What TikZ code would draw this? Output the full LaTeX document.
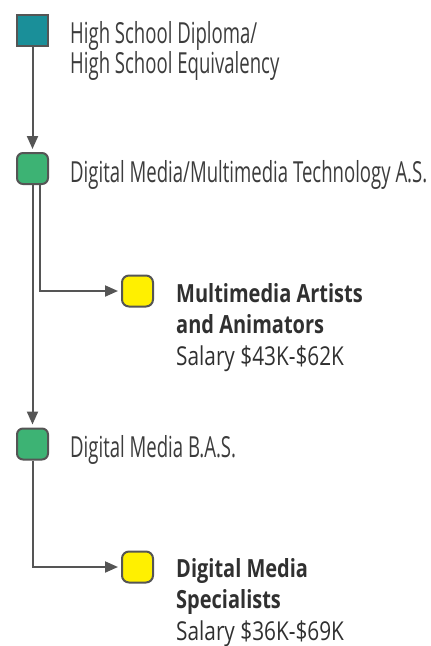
\documentclass[tikz,border=0pt]{standalone}
\usepackage{fontspec}
\setmainfont{Open Sans}
\newfontfamily\condfont[FakeStretch=0.64]{Open Sans}
\newfontfamily\salfont[FakeStretch=0.8]{Open Sans}
\usetikzlibrary{arrows.meta}
\usetikzlibrary{positioning}
\definecolor{mteal}{RGB}{26,143,153}
\definecolor{mgreen}{RGB}{61,179,116}
\definecolor{myellow}{RGB}{255,240,0}
\definecolor{mgray}{RGB}{85,85,85}
\definecolor{mtext}{RGB}{60,60,60}

\begin{document}
\begin{tikzpicture}[x=1pt, y=-1pt,
    box/.style={draw=mgray, line width=2pt, minimum size=31pt, inner sep=0pt},
    link/.style={mgray, line width=2pt, -{Triangle[length=13pt, width=11pt]}, shorten >=3pt},
    txt/.style={anchor=base west, inner sep=0pt, align=left, text=mtext,
      font=\condfont\fontsize{29}{28}\selectfont},
    title/.style={anchor=base west, inner sep=0pt, align=left, text=mtext!80!black,
      font=\salfont\bfseries\fontsize{25}{31.5}\selectfont}]
    \useasboundingbox (0, 0) rectangle (431, 646);

    \node [box, fill=mteal] (hsd) at (32.5, 30) {};
    \node [box, fill=mgreen, rounded corners=6pt] (as) at (32.5, 168.5) {};
    \node [box, fill=myellow, rounded corners=7pt] (artists) at (137.5, 291) {};
    \node [box, fill=mgreen, rounded corners=6pt] (bas) at (32.5, 444) {};
    \node [box, fill=myellow, rounded corners=7pt] (spec) at (137.5, 567) {};

    % base of a multi-line node is its last line
    \node [txt] (hsdtext) at (70, 73) {High School Diploma/\\High School Equivalency};
    \node [txt] (astext) at (70, 182) {Digital Media/Multimedia Technology A.S.};
    \node [txt] (bastext) at (70, 457) {Digital Media B.A.S.};

    \node [title] (artiststext) at (176, 365)
      {Multimedia Artists\\and Animators\\{\mdseries\fontsize{26}{31.5}\selectfont Salary \$43K-\$62K}};
    \node [title] (spectext) at (176, 640)
      {Digital Media\\Specialists\\{\mdseries\fontsize{26}{31.5}\selectfont Salary \$36K-\$69K}};

    \draw [link] (hsd) -- (as);
    \draw [link] ([xshift=7pt]as.south) |- (artists);
    \draw [link] (as) -- (bas);
    \draw [link] (bas) |- (spec);
  \end{tikzpicture}
\end{document}
